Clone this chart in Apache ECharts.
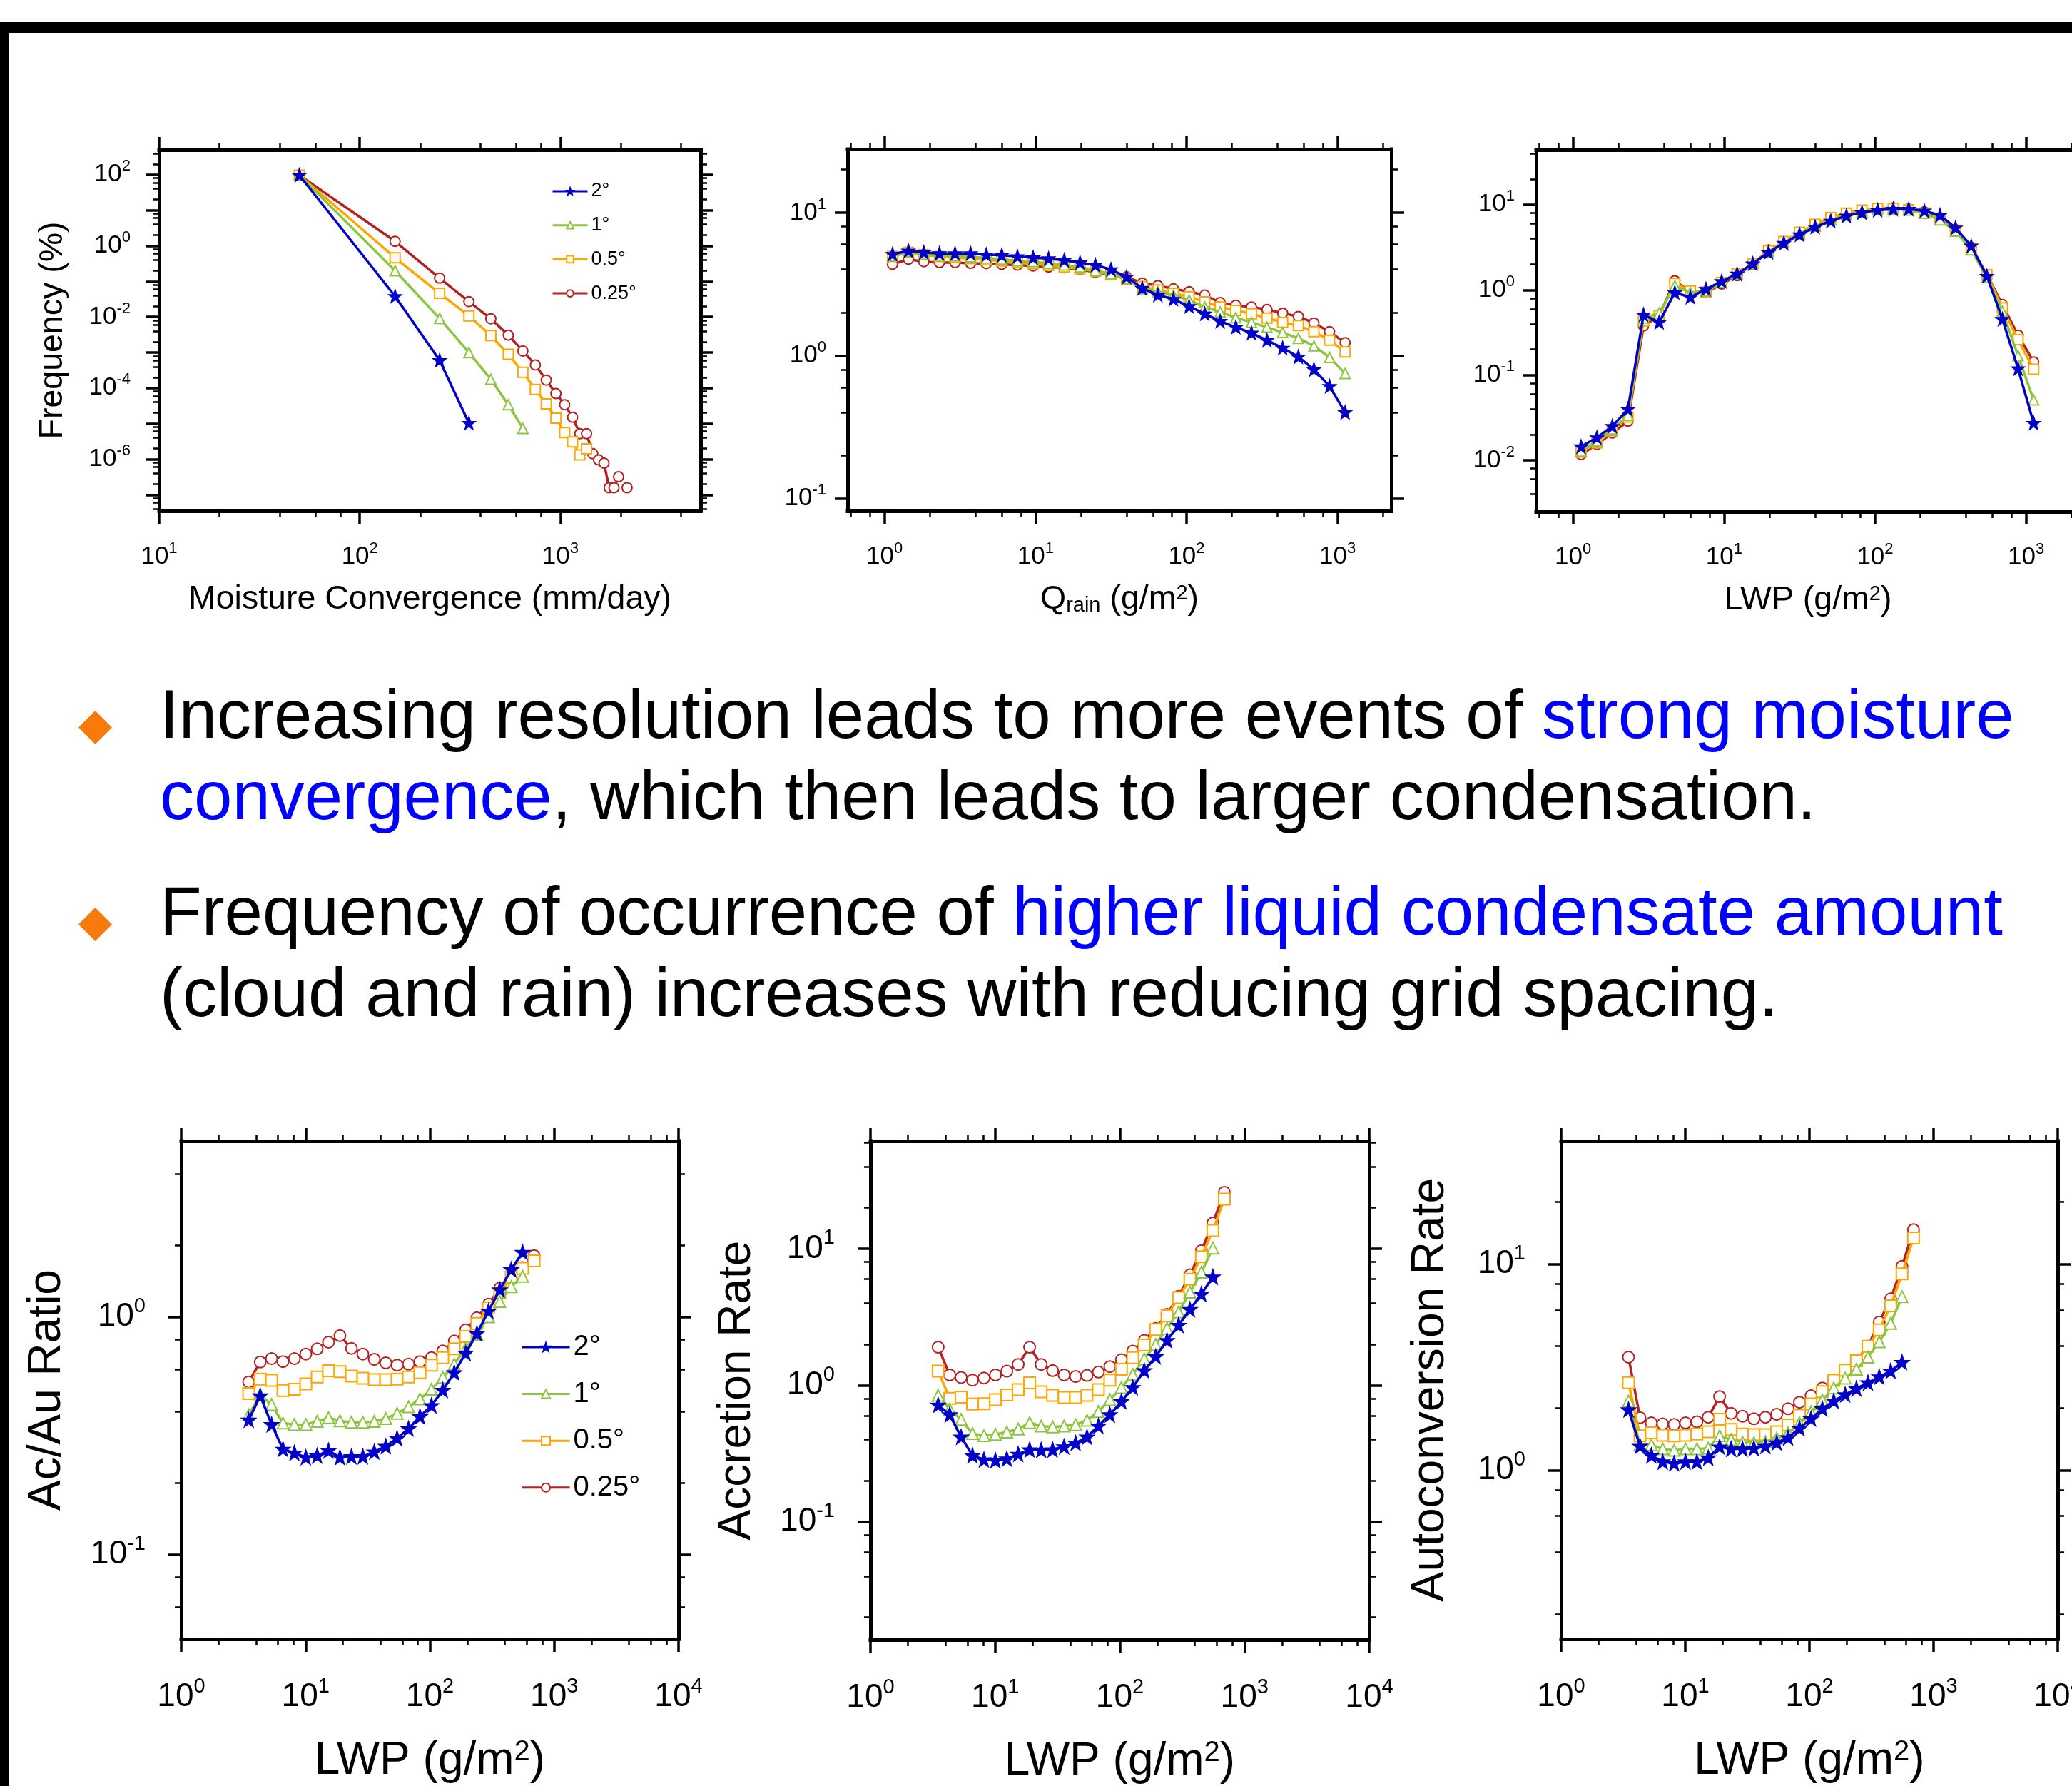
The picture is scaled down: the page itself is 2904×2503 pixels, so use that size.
<!DOCTYPE html>
<html>
<head>
<meta charset="utf-8">
<script src="https://cdn.jsdelivr.net/npm/echarts@6/dist/echarts.min.js"></script>
<style>
html, body { margin: 0; padding: 0; background: #fff; }
#chart { width: 2904px; height: 2503px; }
</style>
</head>
<body>
<div id="chart"></div>
<script>
// ---- data ----
const seriesNames = ['2°', '1°', '0.5°', '0.25°'];

// moisture convergence bins (mm/day) and frequency (%)
const mcX = [50, 150, 250, 350, 450, 550, 650, 750, 850, 950, 1050, 1150, 1250, 1350, 1450, 1550, 1650, 1750, 1850, 1950, 2050, 2150];
const mc2 = [97, 0.038, 6.0e-4, 1.03e-5];
const mc1 = [97, 0.198, 9.1e-3, 9.9e-4, 1.76e-4, 3.4e-5, 7.3e-6];
const mc05 = [97, 0.46, 0.046, 0.0107, 3.0e-3, 8.9e-4, 2.77e-4, 9.1e-5, 3.6e-5, 1.42e-5, 5.6e-6, 3.06e-6, 1.31e-6, 1.95e-6];
const mc025 = [97, 1.33, 0.123, 0.027, 8.9e-3, 3.08e-3, 1.1e-3, 4.46e-4, 1.67e-4, 6.98e-5, 3.4e-5, 1.5e-5, 5.2e-6, 5.2e-6, 1.42e-6, 9.5e-7, 7.7e-7, 1.57e-7, 1.57e-7, 3.2e-7, null, 1.57e-7];

// bins for Qrain / LWP (top row)
const topBinX = [1.13, 1.44, 1.82, 2.31, 2.93, 3.72, 4.72, 5.98, 7.59, 9.64, 12.2, 15.5, 19.7, 24.9, 31.6, 40.1, 50.9, 64.6, 81.9, 104, 132, 167, 212, 269, 341, 433, 550, 697, 885, 1122];
const qr2 = [5.12, 5.41, 5.27, 5.18, 5.18, 5.18, 5.07, 5.04, 4.93, 4.85, 4.77, 4.64, 4.47, 4.30, 4.00, 3.55, 2.96, 2.65, 2.48, 2.21, 1.96, 1.74, 1.58, 1.44, 1.28, 1.13, 0.98, 0.80, 0.61, 0.40];
const qr1 = [4.98, 5.35, 5.12, 5.04, 4.98, 4.90, 4.80, 4.72, 4.59, 4.54, 4.40, 4.30, 4.16, 3.94, 3.73, 3.45, 2.93, 2.80, 2.65, 2.44, 2.19, 2.02, 1.84, 1.71, 1.58, 1.45, 1.32, 1.17, 0.97, 0.75];
const qr05 = [4.93, 5.27, 5.07, 4.93, 4.85, 4.77, 4.67, 4.59, 4.47, 4.40, 4.28, 4.16, 4.05, 3.89, 3.69, 3.40, 3.04, 2.88, 2.73, 2.58, 2.38, 2.19, 2.07, 1.96, 1.83, 1.71, 1.62, 1.47, 1.28, 1.06];
const qr025 = [4.35, 4.72, 4.54, 4.47, 4.47, 4.42, 4.40, 4.35, 4.30, 4.23, 4.16, 4.11, 4.00, 3.83, 3.69, 3.55, 3.21, 3.09, 2.93, 2.80, 2.65, 2.35, 2.25, 2.19, 2.10, 1.98, 1.88, 1.69, 1.47, 1.23];

const lt2 = [0.0145, 0.0185, 0.0251, 0.0398, 0.511, 0.417, 0.93, 0.82, 1.02, 1.26, 1.54, 2.03, 2.75, 3.53, 4.45, 5.45, 6.43, 7.38, 8.09, 8.63, 8.87, 8.87, 8.47, 7.52, 5.35, 3.28, 1.45, 0.453, 0.119, 0.0273];
const lt1 = [0.0128, 0.0169, 0.0233, 0.0337, 0.466, 0.535, 1.12, 0.93, 0.97, 1.22, 1.54, 2.03, 2.81, 3.60, 4.57, 5.60, 6.61, 7.52, 8.24, 8.71, 8.87, 8.63, 7.94, 6.61, 4.88, 2.94, 1.41, 0.56, 0.169, 0.051];
const lt05 = [0.0125, 0.0161, 0.0223, 0.0322, 0.433, 0.50, 1.19, 0.97, 0.946, 1.22, 1.54, 2.03, 2.88, 3.70, 4.74, 5.86, 7.05, 7.94, 8.63, 9.04, 9.04, 8.71, 7.94, 6.73, 5.01, 3.08, 1.51, 0.614, 0.261, 0.117];
const lt025 = [0.0117, 0.0154, 0.0209, 0.0288, 0.377, 0.50, 1.28, 0.946, 0.93, 1.17, 1.47, 2.0, 2.94, 3.60, 4.66, 5.70, 6.73, 7.73, 8.47, 9.04, 9.20, 8.87, 8.24, 6.86, 5.11, 3.16, 1.51, 0.673, 0.294, 0.143];

// LWP bins (bottom row)
const lwpBinX = [3.49, 4.32, 5.33, 6.58, 8.13, 10.05, 12.4, 15.3, 18.9, 23.4, 28.9, 35.7, 44.2, 54.5, 67.3, 83.2, 103, 127, 157, 194, 239, 296, 365, 451, 557, 689];
const aa2 = [0.368, 0.465, 0.352, 0.277, 0.267, 0.256, 0.26, 0.273, 0.256, 0.258, 0.258, 0.27, 0.285, 0.308, 0.338, 0.380, 0.423, 0.491, 0.582, 0.703, 0.851, 1.057, 1.30, 1.58, 1.87];
const aa1 = [0.387, 0.469, 0.427, 0.357, 0.352, 0.352, 0.363, 0.376, 0.365, 0.36, 0.36, 0.363, 0.373, 0.392, 0.418, 0.451, 0.495, 0.556, 0.632, 0.736, 0.844, 1.0, 1.16, 1.34, 1.48];
const aa05 = [0.475, 0.547, 0.540, 0.489, 0.495, 0.522, 0.558, 0.593, 0.588, 0.563, 0.551, 0.544, 0.544, 0.547, 0.558, 0.582, 0.626, 0.673, 0.733, 0.826, 0.938, 1.09, 1.26, 1.47, 1.60, 1.72];
const aa025 = [0.532, 0.645, 0.667, 0.648, 0.667, 0.697, 0.733, 0.782, 0.833, 0.736, 0.697, 0.662, 0.640, 0.626, 0.632, 0.648, 0.673, 0.718, 0.791, 0.881, 0.991, 1.13, 1.32, 1.45, 1.61, 1.81];

const ac2 = [0.717, 0.609, 0.418, 0.306, 0.285, 0.282, 0.289, 0.313, 0.337, 0.335, 0.337, 0.355, 0.377, 0.418, 0.503, 0.609, 0.761, 0.964, 1.28, 1.62, 2.13, 2.75, 3.59, 4.65, 6.21];
const ac1 = [0.844, 0.666, 0.562, 0.443, 0.428, 0.437, 0.454, 0.478, 0.533, 0.503, 0.496, 0.503, 0.514, 0.554, 0.642, 0.784, 0.964, 1.20, 1.56, 1.99, 2.61, 3.44, 4.80, 6.73, 10.1];
const ac05 = [1.27, 0.801, 0.819, 0.728, 0.733, 0.784, 0.850, 0.929, 1.04, 0.895, 0.844, 0.813, 0.813, 0.844, 0.929, 1.09, 1.31, 1.59, 1.97, 2.56, 3.22, 4.39, 5.98, 8.73, 13.6, 23.1];
const ac025 = [1.90, 1.19, 1.14, 1.09, 1.13, 1.19, 1.27, 1.42, 1.90, 1.42, 1.28, 1.19, 1.16, 1.18, 1.25, 1.37, 1.54, 1.78, 2.13, 2.61, 3.31, 4.48, 6.44, 9.68, 15.4, 25.9];

const au2 = [1.97, 1.31, 1.18, 1.10, 1.08, 1.10, 1.10, 1.15, 1.30, 1.27, 1.27, 1.28, 1.31, 1.36, 1.44, 1.60, 1.78, 1.99, 2.17, 2.33, 2.49, 2.66, 2.84, 3.03, 3.34];
const au1 = [2.17, 1.33, 1.33, 1.27, 1.25, 1.27, 1.27, 1.28, 1.47, 1.41, 1.37, 1.36, 1.38, 1.43, 1.52, 1.70, 1.92, 2.19, 2.51, 2.80, 3.09, 3.54, 4.20, 5.16, 6.96];
const au05 = [2.66, 1.47, 1.52, 1.48, 1.47, 1.48, 1.50, 1.54, 1.77, 1.58, 1.50, 1.49, 1.49, 1.54, 1.66, 1.85, 2.10, 2.41, 2.73, 3.06, 3.40, 4.00, 4.80, 6.28, 8.98, 13.4];
const au025 = [3.54, 1.80, 1.70, 1.68, 1.67, 1.70, 1.72, 1.81, 2.28, 1.89, 1.83, 1.78, 1.81, 1.87, 1.99, 2.14, 2.30, 2.51, 2.73, 3.03, 3.42, 4.00, 5.24, 6.79, 9.76, 14.7];

// tick labels (powers of ten)
const p1XLabels = [10, 100, 1000];
const p1YLabels = [1e-6, 1e-4, 1e-2, 1, 100];
const p2XLabels = [1, 10, 100, 1000];
const p2YLabels = [0.1, 1, 10];
const p3XLabels = [1, 10, 100, 1000];
const p3YLabels = [0.01, 0.1, 1, 10];
const lwpXLabels = [1, 10, 100, 1000, 10000];
const p4YLabels = [0.1, 1];
const p5YLabels = [0.1, 1, 10];
const p6YLabels = [1, 10];

// ---- styling / layout ----
const FONT = '"Liberation Sans", Arial, Helvetica, sans-serif';
const colors = ['#0000C8', '#8CC63F', '#FFA500', '#B22222'];
const STAR = 'path://M0,-10L2.35,-3.24L9.51,-3.09L3.8,1.24L5.88,8.09L0,4L-5.88,8.09L-3.8,1.24L-9.51,-3.09L-2.35,-3.24Z';
const symbols = [STAR, 'emptyTriangle', 'emptyRect', 'emptyCircle'];

const supTitle = '{a|LWP (g/m}{sup|2}{a|)}';
const panels = [
  { rect: [223, 210, 759, 506], xr: [10, 5000], yr: [3.5e-8, 500], xLab: p1XLabels, yLab: p1YLabels,
    xs: mcX, ys: [mc2, mc1, mc05, mc025], big: false, yMargin: 40,
    xName: '{a|Moisture Convergence (mm/day)}', xGap: 101, yName: 'Frequency (%)', yGap: 126 },
  { rect: [1188, 209, 762, 507], xr: [0.57, 2270], yr: [0.082, 27.8], xLab: p2XLabels, yLab: p2YLabels,
    xs: topBinX, ys: [qr2, qr1, qr05, qr025], big: false, yMargin: 30,
    xName: '{a|Q}{sub|rain}{a| (g/m}{sup|2}{a|)}', xGap: 101 },
  { rect: [2153, 210, 762, 507], xr: [0.57, 2270], yr: [0.0025, 44], xLab: p3XLabels, yLab: p3YLabels,
    xs: topBinX, ys: [lt2, lt1, lt05, lt025], big: false, yMargin: 30,
    xName: supTitle, xGap: 101 },
  { rect: [254, 1599, 697, 698], xr: [1, 10000], yr: [0.044, 5.5], xLab: lwpXLabels, yLab: p4YLabels,
    xs: lwpBinX, ys: [aa2, aa1, aa05, aa025], big: true, yMargin: 50,
    xName: supTitle, xGap: 139, yName: 'Ac/Au Ratio', yGap: 156 },
  { rect: [1220, 1599, 699, 699], xr: [1, 10000], yr: [0.0137, 61.5], xLab: lwpXLabels, yLab: p5YLabels,
    xs: lwpBinX, ys: [ac2, ac1, ac05, ac025], big: true, yMargin: 50,
    xName: supTitle, xGap: 139, yName: 'Accretion Rate', yGap: 155 },
  { rect: [2188, 1599, 696, 698], xr: [1, 10000], yr: [0.152, 39.6], xLab: lwpXLabels, yLab: p6YLabels,
    xs: lwpBinX, ys: [au2, au1, au05, au025], big: true, yMargin: 50,
    xName: supTitle, xGap: 139, yName: 'Autoconversion Rate', yGap: 151 }
];

function powLabel(v) {
  const e = Math.round(Math.log10(v));
  return '{b|10}{s|' + e + '}';
}
function decades(min, max) {
  const out = [];
  for (let k = Math.floor(Math.log10(min)); k <= Math.ceil(Math.log10(max)); k++) {
    const v = +Math.pow(10, k).toPrecision(6);
    if (v >= min && v <= max) out.push(v);
  }
  return out;
}
function minors(min, max) {
  const out = [];
  for (let k = Math.floor(Math.log10(min)); k <= Math.ceil(Math.log10(max)); k++) {
    [2, 4, 6, 8].forEach(m => {
      const v = +(m * Math.pow(10, k)).toPrecision(6);
      if (v >= min && v <= max) out.push(v);
    });
  }
  return out;
}
function pairs(xs, ys) {
  return ys.map((y, i) => [xs[i], y == null ? '-' : y]);
}

const grid = [], xAxis = [], yAxis = [], series = [];

panels.forEach((p, i) => {
  const r = { left: p.rect[0], top: p.rect[1], width: p.rect[2], height: p.rect[3], outerBoundsMode: 'none' };
  grid.push(Object.assign({}, r), Object.assign({}, r));
  const tf = p.big ? { f: 46, s: 29, l: 58, m: 52 } : { f: 35, s: 22, l: 45, m: 42 };
  const nf = p.big ? { f: 64, s: 40, sl: 26 } : { f: 46.5, s: 29, sl: 18 };
  const rich = {
    b: { fontSize: tf.f, lineHeight: tf.l, fontFamily: FONT, color: '#000' },
    s: { fontSize: tf.s, lineHeight: tf.s, verticalAlign: 'top', fontFamily: FONT, color: '#000' }
  };
  const nameStyle = {
    fontSize: nf.f, lineHeight: nf.f, fontFamily: FONT, color: '#000',
    rich: {
      a: { fontSize: nf.f, lineHeight: nf.f, fontFamily: FONT, color: '#000' },
      sub: { fontSize: nf.s, lineHeight: nf.sl, verticalAlign: 'bottom', fontFamily: FONT, color: '#000' },
      sup: { fontSize: nf.s, lineHeight: nf.sl, verticalAlign: 'top', fontFamily: FONT, color: '#000' }
    }
  };
  const frame = { show: true, onZero: false, lineStyle: { color: '#000', width: 5, cap: 'square' } };
  const noLine = { show: false, onZero: false };
  const majTick = vals => ({ show: true, inside: false, length: 18, customValues: vals, lineStyle: { color: '#000', width: 3.5 } });
  const minTick = vals => ({ show: true, inside: false, length: 9, customValues: vals, lineStyle: { color: '#000', width: 2.5 } });
  const base = (g, rng) => ({ type: 'log', gridIndex: g, min: rng[0], max: rng[1], splitLine: { show: false }, nameMoveOverlap: false });
  const xMaj = decades(p.xr[0], p.xr[1]), yMaj = decades(p.yr[0], p.yr[1]);
  const xMin = minors(p.xr[0], p.xr[1]), yMin = minors(p.yr[0], p.yr[1]);

  xAxis.push(
    Object.assign(base(2 * i, p.xr), {
      position: 'bottom', axisLine: frame, axisTick: majTick(xMaj),
      axisLabel: { show: true, customValues: p.xLab, formatter: powLabel, margin: tf.m, fontSize: tf.f, fontFamily: FONT, color: '#000', rich: rich },
      name: p.xName, nameLocation: 'middle', nameGap: p.xGap, nameTextStyle: nameStyle
    }),
    Object.assign(base(2 * i, p.xr), { position: 'top', axisLine: frame, axisTick: majTick(xMaj), axisLabel: { show: false } }),
    Object.assign(base(2 * i + 1, p.xr), { position: 'bottom', axisLine: noLine, axisTick: minTick(xMin), axisLabel: { show: false } }),
    Object.assign(base(2 * i + 1, p.xr), { position: 'top', axisLine: noLine, axisTick: minTick(xMin), axisLabel: { show: false } })
  );
  const yMain = Object.assign(base(2 * i, p.yr), {
    position: 'left', axisLine: frame, axisTick: majTick(yMaj),
    axisLabel: { show: true, customValues: p.yLab, formatter: powLabel, margin: p.yMargin, fontSize: tf.f, fontFamily: FONT, color: '#000', rich: rich }
  });
  if (p.yName) {
    Object.assign(yMain, { name: p.yName, nameLocation: 'middle', nameRotate: 90, nameGap: p.yGap, nameTextStyle: nameStyle });
  }
  yAxis.push(
    yMain,
    Object.assign(base(2 * i, p.yr), { position: 'right', axisLine: frame, axisTick: majTick(yMaj), axisLabel: { show: false } }),
    Object.assign(base(2 * i + 1, p.yr), { position: 'left', axisLine: noLine, axisTick: minTick(yMin), axisLabel: { show: false } }),
    Object.assign(base(2 * i + 1, p.yr), { position: 'right', axisLine: noLine, axisTick: minTick(yMin), axisLabel: { show: false } })
  );

  // draw 0.25° first so 2° ends on top
  [3, 2, 1, 0].forEach(k => {
    series.push({
      type: 'line', name: seriesNames[k], xAxisIndex: 4 * i, yAxisIndex: 4 * i,
      data: pairs(p.xs, p.ys[k]), connectNulls: false,
      symbol: symbols[k], symbolSize: p.big ? 16 : 14, showAllSymbol: true,
      lineStyle: { color: colors[k], width: 3.5 },
      itemStyle: { color: colors[k], borderColor: colors[k], borderWidth: 3 },
      emphasis: { disabled: true }, z: 3 + (3 - k)
    });
  });
});

const legendBase = {
  orient: 'vertical', padding: 0, data: seriesNames, selectedMode: false,
  lineStyle: { width: 3 }, itemStyle: { borderWidth: 2 }
};
const legend = [
  Object.assign({}, legendBase, { left: 773, top: 254.5, itemWidth: 49, itemHeight: 12, itemGap: 20.7,
    textStyle: { fontSize: 27, lineHeight: 27, color: '#000', fontFamily: FONT } }),
  Object.assign({}, legendBase, { left: 730, top: 1868, itemWidth: 67, itemHeight: 15, itemGap: 25.6,
    textStyle: { fontSize: 40, lineHeight: 40, color: '#000', fontFamily: FONT } })
];

const bulletRich = {
  k: { fontSize: 96, lineHeight: 114, fontFamily: FONT, fill: '#000' },
  b: { fontSize: 96, lineHeight: 114, fontFamily: FONT, fill: '#0000FF' }
};
const diamond = (cx, cy) => ({ type: 'polygon', shape: { points: [[cx, cy - 23.5], [cx + 23.5, cy], [cx, cy + 23.5], [cx - 23.5, cy]] }, style: { fill: '#F77A0B' } });

const graphic = [
  { type: 'rect', shape: { x: 0, y: 31, width: 2904, height: 15 }, style: { fill: '#000' } },
  { type: 'rect', shape: { x: 0, y: 31, width: 13, height: 2472 }, style: { fill: '#000' } },
  diamond(133.5, 1019.5),
  diamond(133.5, 1295.5),
  { type: 'text', x: 224, y: 951, style: { text: '{k|Increasing resolution leads to more events of }{b|strong moisture}\n{b|convergence}{k|, which then leads to larger condensation.}', rich: bulletRich, verticalAlign: 'top', align: 'left' } },
  { type: 'text', x: 224, y: 1227, style: { text: '{k|Frequency of occurrence of }{b|higher liquid condensate amount}\n{k|(cloud and rain) increases with reducing grid spacing.}', rich: bulletRich, verticalAlign: 'top', align: 'left' } }
];

const chart = echarts.init(document.getElementById('chart'), null, { renderer: 'canvas' });
chart.setOption({
  animation: false,
  backgroundColor: '#fff',
  textStyle: { fontFamily: FONT },
  grid: grid,
  xAxis: xAxis,
  yAxis: yAxis,
  legend: legend,
  graphic: graphic,
  series: series
});
</script>
</body>
</html>
